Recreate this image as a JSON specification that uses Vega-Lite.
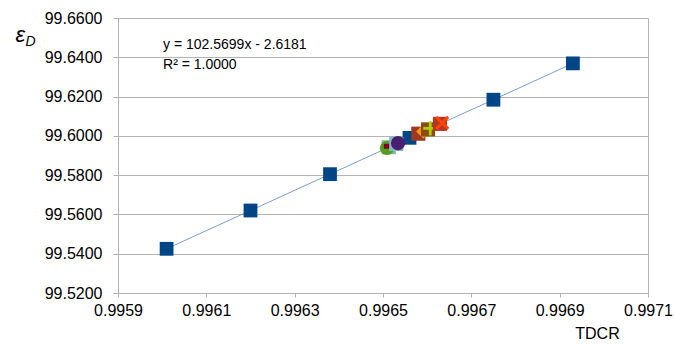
{
  "$schema": "https://vega.github.io/schema/vega-lite/v6.json",
  "width": 530,
  "height": 275,
  "autosize": {"type": "none"},
  "padding": {"left": 118, "top": 18, "right": 26, "bottom": 52},
  "background": "white",
  "config": {
    "font": "Liberation Sans",
    "view": {"stroke": "#b3b3b3", "strokeWidth": 1},
    "axis": {
      "labelFont": "Liberation Sans",
      "labelFontSize": 16,
      "labelColor": "#000000",
      "labelOverlap": false,
      "labelFlush": false,
      "domainColor": "#b3b3b3",
      "tickColor": "#b3b3b3",
      "gridColor": "#b3b3b3",
      "titleFont": "Liberation Sans",
      "titleFontWeight": "normal",
      "titleColor": "#000000"
    }
  },
  "datasets": {
    "main": [
      {"tdcr": 0.99601, "eff": 99.5425},
      {"tdcr": 0.99620, "eff": 99.5620},
      {"tdcr": 0.99638, "eff": 99.5805},
      {"tdcr": 0.99656, "eff": 99.5990},
      {"tdcr": 0.99675, "eff": 99.6184},
      {"tdcr": 0.99693, "eff": 99.6369}
    ],
    "cluster": [
      {"tdcr": 0.996513, "eff": 99.5942, "series": "S2"},
      {"tdcr": 0.996509, "eff": 99.5938, "series": "S3"},
      {"tdcr": 0.996518, "eff": 99.5947, "series": "S4"},
      {"tdcr": 0.996530, "eff": 99.5959, "series": "S5"},
      {"tdcr": 0.996534, "eff": 99.5963, "series": "S6"},
      {"tdcr": 0.996580, "eff": 99.6011, "series": "S7"},
      {"tdcr": 0.996591, "eff": 99.6022, "series": "S8"},
      {"tdcr": 0.996602, "eff": 99.6033, "series": "S9"},
      {"tdcr": 0.996607, "eff": 99.6038, "series": "S10"},
      {"tdcr": 0.996629, "eff": 99.6061, "series": "S11"},
      {"tdcr": 0.996634, "eff": 99.6066, "series": "S12"}
    ],
    "ann": [
      {"tdcr": 0.996002, "eff": 99.6463, "label": "y = 102.5699x - 2.6181"},
      {"tdcr": 0.996002, "eff": 99.6361, "label": "R² = 1.0000"}
    ],
    "ytitle": [
      {"tdcr": 0.995679, "eff": 99.6511, "label": "ε", "size": 22},
      {"tdcr": 0.995702, "eff": 99.6479, "label": "D", "size": 14}
    ]
  },
  "layer": [
    {
      "data": {"name": "main"},
      "mark": {"type": "line", "color": "#5b85c2", "strokeWidth": 0.8},
      "encoding": {
        "x": {
          "field": "tdcr", "type": "quantitative",
          "scale": {"domain": [0.9959, 0.9971], "nice": false, "zero": false},
          "axis": {
            "values": [0.9959, 0.9961, 0.9963, 0.9965, 0.9967, 0.9969, 0.9971],
            "tickCount": 20,
            "format": ".4f",
            "grid": false,
            "tickSize": 4,
            "labelPadding": 5,
            "title": "TDCR",
            "titleFontSize": 16,
            "titleX": 479,
            "titleY": 32,
            "titleAnchor": "start",
            "titleAlign": "center"
          }
        },
        "y": {
          "field": "eff", "type": "quantitative",
          "scale": {"domain": [99.52, 99.66], "nice": false, "zero": false},
          "axis": {
            "values": [99.52, 99.54, 99.56, 99.58, 99.60, 99.62, 99.64, 99.66],
            "tickCount": 20,
            "format": ".4f",
            "grid": true,
            "tickSize": 5,
            "labelPadding": 11,
            "title": null
          }
        }
      }
    },
    {
      "data": {"name": "main"},
      "mark": {"type": "point", "shape": "square", "filled": true, "opacity": 1, "color": "#004586", "size": 190},
      "encoding": {
        "x": {"field": "tdcr", "type": "quantitative"},
        "y": {"field": "eff", "type": "quantitative"}
      }
    },
    {
      "data": {"name": "cluster"},
      "mark": {"type": "point", "filled": true, "opacity": 1, "size": 200},
      "encoding": {
        "x": {"field": "tdcr", "type": "quantitative"},
        "y": {"field": "eff", "type": "quantitative"},
        "color": {
          "field": "series", "type": "nominal", "legend": null,
          "scale": {
            "domain": ["S2", "S3", "S4", "S5", "S6", "S7", "S8", "S9", "S10", "S11", "S12"],
            "range": ["#7fb9b3", "#579d1c", "#7e0021", "#83b8c8", "#4b1f6f", "#9c3a22", "#ff950e", "#8a4b16", "#aecf00", "#b5371e", "#ff420e"]
          }
        },
        "shape": {
          "field": "series", "type": "nominal", "legend": null,
          "scale": {
            "domain": ["S2", "S3", "S4", "S5", "S6", "S7", "S8", "S9", "S10", "S11", "S12"],
            "range": ["square", "circle", "M-1,-0.35L1,-0.35L1,0.35L-1,0.35Z", "square", "circle", "square", "diamond", "square", "M-1,-0.2L-0.2,-0.2L-0.2,-1L0.2,-1L0.2,-0.2L1,-0.2L1,0.2L0.2,0.2L0.2,1L-0.2,1L-0.2,0.2L-1,0.2Z", "square", "M-1,-0.7L-0.7,-1L0,-0.3L0.7,-1L1,-0.7L0.3,0L1,0.7L0.7,1L0,0.3L-0.7,1L-1,0.7L-0.3,0Z"]
          }
        }
      }
    },
    {
      "data": {"name": "ann"},
      "mark": {"type": "text", "align": "left", "baseline": "middle", "fontSize": 14, "font": "Liberation Sans", "color": "#000000"},
      "encoding": {
        "x": {"field": "tdcr", "type": "quantitative"},
        "y": {"field": "eff", "type": "quantitative"},
        "text": {"field": "label"}
      }
    },
    {
      "data": {"name": "ytitle"},
      "mark": {"type": "text", "align": "center", "baseline": "middle", "fontStyle": "italic", "font": "Liberation Sans", "color": "#000000"},
      "encoding": {
        "x": {"field": "tdcr", "type": "quantitative"},
        "y": {"field": "eff", "type": "quantitative"},
        "text": {"field": "label"},
        "size": {"field": "size", "type": "quantitative", "scale": null}
      }
    }
  ]
}
